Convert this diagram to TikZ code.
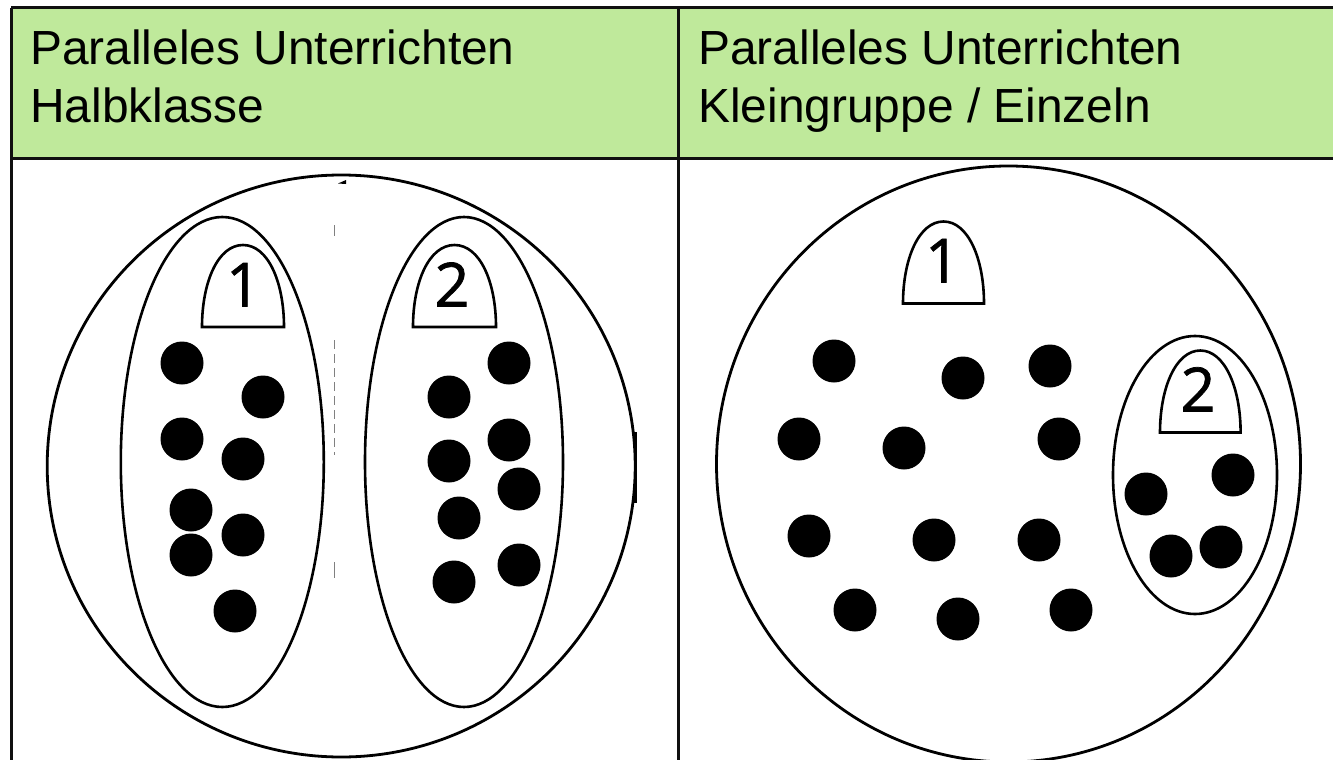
\documentclass[tikz,border=0pt]{standalone}
\usepackage{fontspec}
\setmainfont{Liberation Sans}
\newfontfamily\digitfont[FakeBold=1.2]{Open Sans}
\definecolor{headgreen}{HTML}{BFE99B}
\definecolor{rulecol}{HTML}{101010}
\tikzset{
  rulelinie/.style={draw=rulecol,line width=3pt},
  umriss/.style={draw=black,line width=2.8pt},
  innen/.style={draw=black,line width=2.6pt},
  person/.style={circle,fill=black,inner sep=0pt,minimum size=43pt},
  kopf/.style={anchor=base west,inner sep=0pt,font=\fontsize{47.9}{57}\selectfont},
  ziffer/.style={anchor=base,inner sep=0pt,font=\digitfont\fontsize{61}{61}\selectfont},
}
\newcommand{\lehrer}[3]{%
  \draw[innen,line join=miter] (#1,#3) .. controls (#1,{#3-45}) and ({#1+16},{#3-82}) .. ({(#1+#2)/2},{#3-82})
    .. controls ({#2-16},{#3-82}) and (#2,{#3-45}) .. (#2,#3) -- cycle;}
\begin{document}
\begin{tikzpicture}[x=1pt,y=-1pt]
\useasboundingbox (0,0) rectangle (1333,760);
\clip (0,0) rectangle (1333,760);
\fill[white] (0,0) rectangle (1333,760);
\fill[headgreen] (11,8) rectangle (1333,158);
% table rules
\coordinate (tl) at (11,8); \coordinate (tr) at (1333,8);
\coordinate (ml) at (11,158); \coordinate (mr) at (1333,158);
\coordinate (bl) at (11,760); \coordinate (tm) at (678.5,8); \coordinate (bm) at (678.5,760);
\draw[rulelinie] (tl) -- (tr);
\draw[rulelinie] (ml) -- (mr);
\draw[rulelinie] (tl) -- (bl);
\draw[rulelinie] (tm) -- (bm);
% headers
\node[kopf] (h1a) at (30,64) {Paralleles Unterrichten};
\node[kopf] (h1b) at (30,122) {Halbklasse};
\node[kopf] (h2a) at (698,64) {Paralleles Unterrichten};
\node[kopf] (h2b) at (698,122) {Kleingruppe / Einzeln};
% left panel
\draw[umriss] (341.2,466) ellipse [x radius=294,y radius=291];
\draw[line width=3.6pt] (635.6,432) -- (635.6,503);
\draw[innen] (222.3,462) ellipse [x radius=101.5,y radius=245];
\draw[innen] (464,462) ellipse [x radius=99,y radius=245];
\lehrer{202}{284}{327}
\lehrer{413}{496}{327}
\node[ziffer] (l1) at (243.5,306.6) {1};
\node[ziffer] (l2) at (452,306.6) {2};
\foreach \n/\x/\y in {a/182/363,b/263/397,c/182/439,d/243/459,e/191/510,f/243/535,g/191/555,h/235/611,
  i/509/363,j/449/397,k/509/440,m/449/461,n/519/489,o/459/518,p/519/565,q/454/582}
  \node[person] (lp\n) at (\x,\y) {};
% scan specks of the left panel
\fill[black] (338,183.5) -- (346,180) -- (346,184) -- cycle;
\draw[gray,line width=.8pt,dash pattern=on 9pt off 5pt] (334,340) -- (334,455);
\draw[gray,line width=.8pt] (334,225) -- (334,236);
\draw[gray,line width=.8pt] (334,562) -- (334,578);
% right panel
\draw[umriss] (1008.5,464) ellipse [x radius=292,y radius=298];
\draw[innen] (1195,475) ellipse [x radius=82,y radius=139];
\lehrer{903}{984}{303.5}
\lehrer{1160}{1240.6}{432.5}
\node[ziffer] (r1) at (942.5,282.5) {1};
\node[ziffer] (r2) at (1198,411.4) {2};
\foreach \n/\x/\y in {a/834/361,b/963/378,c/1050/366,d/799/439,e/904/448,f/1059/439,g/809/536,h/934/540,
  i/1039/540,j/855/610,k/958/619,m/1071/610,n/1146/494,o/1233/475,p/1171/556,q/1221/547}
  \node[person] (rp\n) at (\x,\y) {};
\end{tikzpicture}
\end{document}
